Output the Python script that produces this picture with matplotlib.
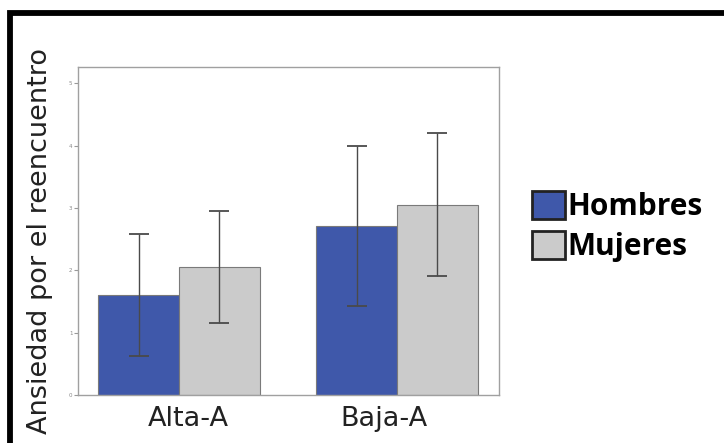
import matplotlib
matplotlib.use("Agg")
import matplotlib.pyplot as plt
import matplotlib.transforms as mtransforms
from matplotlib.patches import Rectangle
import numpy as np

# data
groups = ["Alta-A", "Baja-A"]
series = ["Hombres", "Mujeres"]
hombres = [1.60, 2.71]
mujeres = [2.05, 3.05]
hombres_lo = [0.63, 1.43]
hombres_hi = [2.58, 3.99]
mujeres_lo = [1.15, 1.91]
mujeres_hi = [2.95, 4.20]
yticks = [0, 1, 2, 3, 4, 5]

blue = "#3f58aa"
grey = "#cbcbcb"

fig = plt.figure(figsize=(7.24, 4.43), dpi=100)
ax = fig.add_axes([78 / 724, 48 / 443, 421 / 724, 328 / 443])

x = np.arange(len(groups))
w = 0.37
vals = [hombres, mujeres]
lows = [hombres_lo, mujeres_lo]
highs = [hombres_hi, mujeres_hi]
colors = [blue, grey]
handles = []
for i, name in enumerate(series):
    pos = x + (i - 0.5) * w
    v = np.array(vals[i])
    err = [v - np.array(lows[i]), np.array(highs[i]) - v]
    b = ax.bar(pos, v, w, color=colors[i], edgecolor="#7a7a7a", linewidth=0.8,
               label=name, zorder=2)
    ax.errorbar(pos, v, yerr=err, fmt="none", ecolor="#4a4a4a", elinewidth=1.0,
                capsize=7, capthick=1.3, zorder=3)
    handles.append(b)

ax.set_xlim(-0.463, 1.468)
ax.set_ylim(0, 5.26)
ax.set_yticks(yticks)
ax.set_yticklabels([str(t) for t in yticks], fontsize=4, color="#888888")
ax.tick_params(axis="y", length=3, width=0.8, color="#999999", pad=1)
ax.set_xticks(x)
ax.set_xticklabels(groups, fontsize=19.5, color="#222222")
ax.tick_params(axis="x", length=0, pad=8)
# labels in the original sit a bit off the group centres
for lbl, dx in zip(ax.get_xticklabels(), [9, -13]):
    lbl.set_transform(lbl.get_transform() + mtransforms.ScaledTranslation(dx / 100, 0, fig.dpi_scale_trans))
for s in ax.spines.values():
    s.set_color("#a0a0a0")
    s.set_linewidth(1.0)

fig.text(40 / 724, 1 - 241 / 443, "Ansiedad por el reencuentro", rotation=90,
         ha="center", va="center", fontsize=19.5, color="#222222")

# legend
leg = fig.legend(handles, series, loc="upper left", bbox_to_anchor=(520 / 724, 1 - 179 / 443),
                 frameon=False, handlelength=1.1, handleheight=1.05, handletextpad=0.1,
                 labelspacing=0.3, borderaxespad=0,
                 prop={"weight": "bold", "size": 21.5, "family": "Open Sans"})
for h in leg.legend_handles:
    h.set_edgecolor("#222222")
    h.set_linewidth(2)

# thick black frame (cropped at right/bottom)
fig.add_artist(Rectangle((10 / 724, -0.2), 1.2, 1.2 - 13 / 443,
                         transform=fig.transFigure, fill=False,
                         edgecolor="black", linewidth=4.2))

fig.savefig("out.png", dpi=100)
